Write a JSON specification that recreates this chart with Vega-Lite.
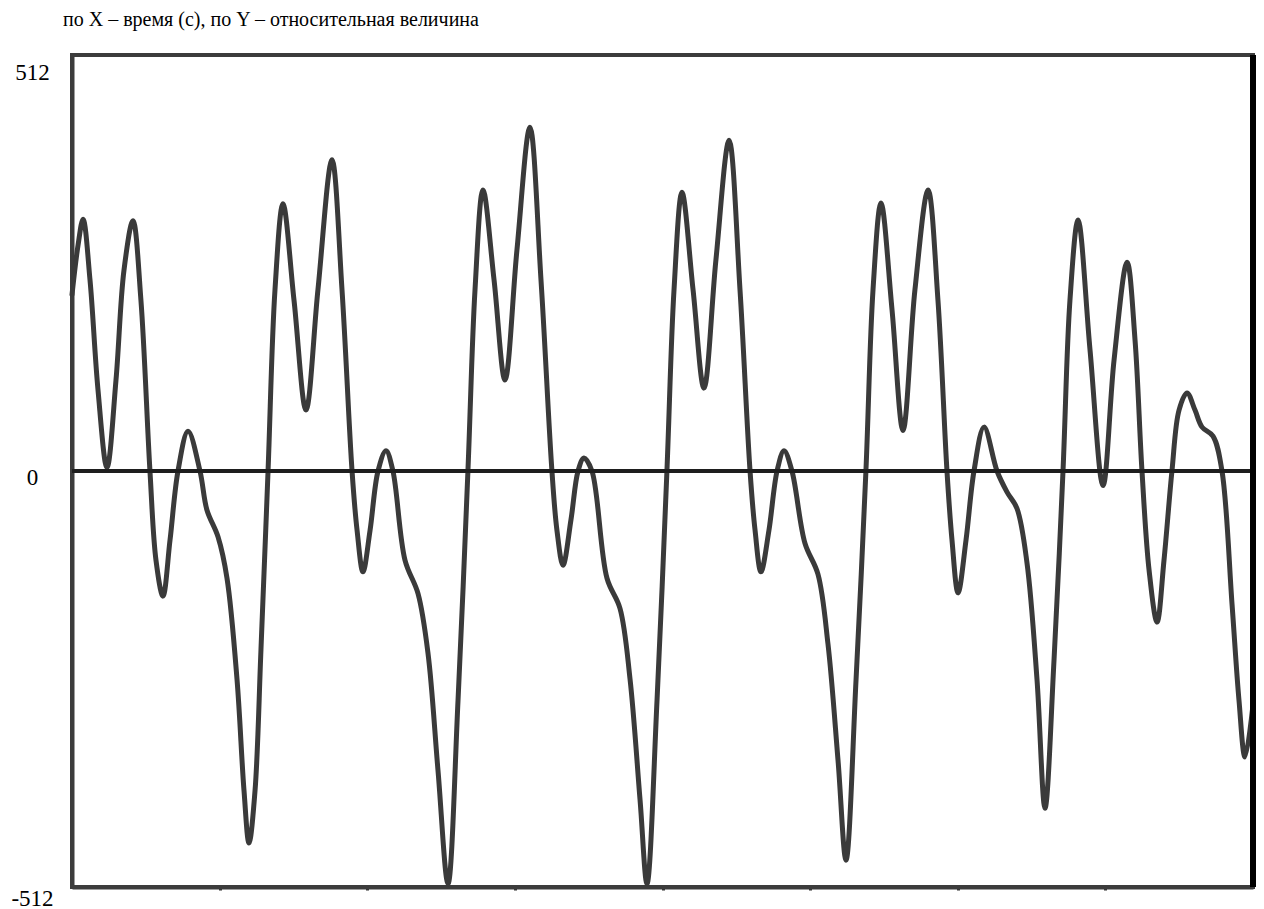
{
  "$schema": "https://vega.github.io/schema/vega-lite/v6.json",
  "width": 1181,
  "height": 832,
  "autosize": "none",
  "padding": {"left": 72, "top": 55, "right": 11, "bottom": 22},
  "background": "white",
  "title": {
    "text": "по X – время (с), по Y – относительная величина",
    "font": "Liberation Serif, Times New Roman, DejaVu Serif, serif",
    "fontSize": 20,
    "fontWeight": "normal",
    "color": "black",
    "anchor": "start",
    "frame": "group",
    "dx": -9,
    "offset": 23
  },
  "config": {
    "view": {"stroke": "#3c3c3c", "strokeWidth": 4},
    "axis": {"grid": false}
  },
  "data": {
    "values": [
      {"t": 0, "v": 217}, {"t": 0.041, "v": 278}, {"t": 0.075, "v": 310}, {"t": 0.122, "v": 235},
      {"t": 0.176, "v": 100}, {"t": 0.237, "v": 4}, {"t": 0.298, "v": 112}, {"t": 0.352, "v": 247},
      {"t": 0.413, "v": 308}, {"t": 0.467, "v": 210}, {"t": 0.528, "v": 0}, {"t": 0.569, "v": -110},
      {"t": 0.616, "v": -154}, {"t": 0.664, "v": -85}, {"t": 0.718, "v": 0}, {"t": 0.786, "v": 49},
      {"t": 0.867, "v": 0}, {"t": 0.914, "v": -48}, {"t": 0.989, "v": -81}, {"t": 1.05, "v": -132},
      {"t": 1.118, "v": -257}, {"t": 1.165, "v": -393}, {"t": 1.199, "v": -458}, {"t": 1.24, "v": -393},
      {"t": 1.28, "v": -220}, {"t": 1.328, "v": 0}, {"t": 1.375, "v": 223}, {"t": 1.429, "v": 329},
      {"t": 1.504, "v": 210}, {"t": 1.585, "v": 75}, {"t": 1.666, "v": 223}, {"t": 1.761, "v": 383},
      {"t": 1.829, "v": 223}, {"t": 1.897, "v": 0}, {"t": 1.931, "v": -73}, {"t": 1.971, "v": -124},
      {"t": 2.019, "v": -73}, {"t": 2.073, "v": 0}, {"t": 2.127, "v": 25}, {"t": 2.174, "v": 0},
      {"t": 2.256, "v": -110}, {"t": 2.344, "v": -151}, {"t": 2.412, "v": -225}, {"t": 2.479, "v": -368},
      {"t": 2.547, "v": -508}, {"t": 2.615, "v": -282}, {"t": 2.682, "v": 0}, {"t": 2.73, "v": 223},
      {"t": 2.784, "v": 346}, {"t": 2.859, "v": 235}, {"t": 2.933, "v": 112}, {"t": 3.014, "v": 272},
      {"t": 3.102, "v": 423}, {"t": 3.177, "v": 235}, {"t": 3.251, "v": 0}, {"t": 3.285, "v": -73},
      {"t": 3.326, "v": -116}, {"t": 3.38, "v": -60}, {"t": 3.428, "v": 0}, {"t": 3.468, "v": 16},
      {"t": 3.522, "v": 0}, {"t": 3.624, "v": -132}, {"t": 3.712, "v": -169}, {"t": 3.78, "v": -256},
      {"t": 3.848, "v": -405}, {"t": 3.895, "v": -508}, {"t": 3.963, "v": -282}, {"t": 4.03, "v": 0},
      {"t": 4.078, "v": 223}, {"t": 4.132, "v": 343}, {"t": 4.207, "v": 223}, {"t": 4.281, "v": 102},
      {"t": 4.362, "v": 260}, {"t": 4.451, "v": 407}, {"t": 4.525, "v": 223}, {"t": 4.593, "v": 0},
      {"t": 4.627, "v": -73}, {"t": 4.667, "v": -124}, {"t": 4.721, "v": -73}, {"t": 4.776, "v": 0},
      {"t": 4.823, "v": 25}, {"t": 4.877, "v": 0}, {"t": 4.965, "v": -89}, {"t": 5.053, "v": -127},
      {"t": 5.121, "v": -213}, {"t": 5.189, "v": -356}, {"t": 5.243, "v": -479}, {"t": 5.311, "v": -257},
      {"t": 5.378, "v": 0}, {"t": 5.426, "v": 223}, {"t": 5.48, "v": 330}, {"t": 5.555, "v": 198},
      {"t": 5.629, "v": 50}, {"t": 5.71, "v": 223}, {"t": 5.799, "v": 346}, {"t": 5.866, "v": 210},
      {"t": 5.927, "v": 0}, {"t": 5.961, "v": -85}, {"t": 6.002, "v": -150}, {"t": 6.056, "v": -85},
      {"t": 6.11, "v": 0}, {"t": 6.178, "v": 54}, {"t": 6.266, "v": 0}, {"t": 6.334, "v": -26},
      {"t": 6.401, "v": -46}, {"t": 6.469, "v": -113}, {"t": 6.537, "v": -257}, {"t": 6.591, "v": -415},
      {"t": 6.652, "v": -233}, {"t": 6.713, "v": 0}, {"t": 6.76, "v": 210}, {"t": 6.815, "v": 309},
      {"t": 6.896, "v": 149}, {"t": 6.984, "v": -18}, {"t": 7.059, "v": 137}, {"t": 7.147, "v": 257},
      {"t": 7.201, "v": 161}, {"t": 7.248, "v": 0}, {"t": 7.296, "v": -122}, {"t": 7.35, "v": -186},
      {"t": 7.397, "v": -110}, {"t": 7.451, "v": 0}, {"t": 7.499, "v": 75}, {"t": 7.553, "v": 96},
      {"t": 7.607, "v": 75}, {"t": 7.655, "v": 54}, {"t": 7.729, "v": 43}, {"t": 7.79, "v": 0},
      {"t": 7.858, "v": -164}, {"t": 7.905, "v": -282}, {"t": 7.946, "v": -352}, {"t": 8, "v": -288}
    ]
  },
  "layer": [
    {
      "mark": {"type": "line", "interpolate": "catmull-rom", "stroke": "#3a3a3a", "strokeWidth": 5, "strokeJoin": "round", "strokeCap": "round"},
      "encoding": {
        "x": {
          "field": "t", "type": "quantitative",
          "scale": {"domain": [0, 8], "nice": false, "zero": false},
          "axis": {
            "title": null, "labels": false, "values": [1, 2, 3, 4, 5, 6, 7],
            "domain": true, "domainColor": "#3c3c3c", "domainWidth": 4,
            "ticks": true, "tickSize": 3, "tickWidth": 3, "tickColor": "#333333"
          }
        },
        "y": {
          "field": "v", "type": "quantitative",
          "scale": {"domain": [-512, 512], "nice": false},
          "axis": {
            "title": null, "values": [-512, 0, 512],
            "labelExpr": "datum.value == -512 ? '-512' : datum.value == 512 ? '512' : '0'",
            "domain": true, "domainColor": "#3c3c3c", "domainWidth": 4,
            "ticks": false,
            "labelFont": "Liberation Serif, Times New Roman, DejaVu Serif, serif", "labelFontSize": 23, "labelColor": "black",
            "labelAlign": "center", "labelBaseline": "middle", "labelPadding": 40,
            "labelOffset": {"condition": [{"test": "datum.value == 512", "value": 17}, {"test": "datum.value == 0", "value": 6}], "value": 11}
          }
        }
      }
    },
    {
      "mark": {"type": "rule", "stroke": "#1e1e1e", "strokeWidth": 3},
      "encoding": {"y": {"datum": 0}}
    },
    {
      "mark": {"type": "rule", "stroke": "#000000", "strokeWidth": 5},
      "encoding": {"x": {"datum": 8}}
    }
  ]
}
